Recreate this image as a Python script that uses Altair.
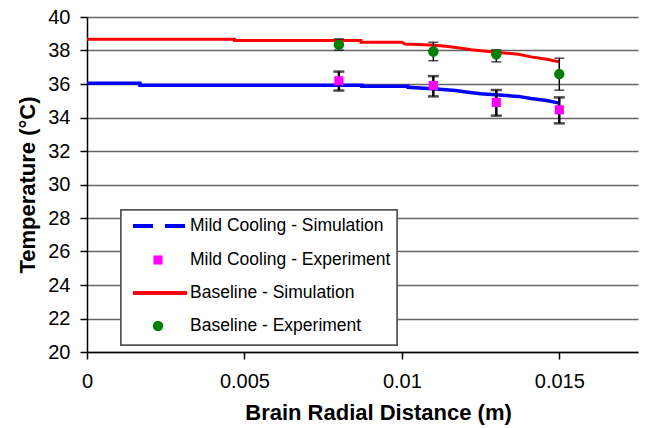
import altair as alt
import pandas as pd

# ---- data ----
red_x = [0, 0.00468, 0.00468, 0.0087, 0.0087, 0.0100, 0.0101, 0.0109, 0.0114, 0.0119, 0.0122, 0.0130, 0.0137, 0.0141, 0.0146, 0.0150]
red_y = [38.67, 38.67, 38.59, 38.59, 38.49, 38.49, 38.39, 38.33, 38.26, 38.14, 38.04, 37.90, 37.78, 37.62, 37.48, 37.32]

blue_x = [0, 0.00168, 0.00168, 0.00873, 0.00873, 0.0102, 0.0102, 0.0111, 0.0117, 0.0121, 0.0125, 0.0131, 0.0137, 0.0141, 0.0146, 0.0150]
blue_y = [36.05, 36.05, 35.93, 35.93, 35.87, 35.87, 35.80, 35.70, 35.61, 35.51, 35.42, 35.34, 35.26, 35.14, 35.02, 34.86]

exp_x = [0.008, 0.011, 0.013, 0.015]
mild_y = [36.19, 35.91, 34.90, 34.46]
mild_hi = [36.74, 36.47, 35.64, 35.20]
mild_lo = [35.61, 35.26, 34.11, 33.65]
base_y = [38.35, 37.94, 37.78, 36.59]
base_hi = [38.69, 38.49, 38.04, 37.54]
base_lo = [38.02, 37.39, 37.32, 35.63]

x_ticks = [0, 0.005, 0.01, 0.015]
y_ticks = [20, 22, 24, 26, 28, 30, 32, 34, 36, 38, 40]

legend_labels = ["Mild Cooling - Simulation", "Mild Cooling - Experiment",
                 "Baseline - Simulation", "Baseline - Experiment"]

FONT = "Liberation Sans"
W, H = 551, 335

red_df = pd.DataFrame({"x": red_x, "y": red_y, "i": range(len(red_x))})
blue_df = pd.DataFrame({"x": blue_x, "y": blue_y, "i": range(len(blue_x))})
mild_df = pd.DataFrame({"x": exp_x, "y": mild_y, "hi": mild_hi, "lo": mild_lo})
base_df = pd.DataFrame({"x": exp_x, "y": base_y, "hi": base_hi, "lo": base_lo})

xscale = alt.Scale(domain=[0, 0.0175], nice=False, zero=False)
yscale = alt.Scale(domain=[20, 40], nice=False, zero=False)

xax = alt.Axis(values=x_ticks, format=".3~f", grid=False,
               labelFlush=False, labelOverlap=False,
               title="Brain Radial Distance (m)", titleX=291, titleY=60,
               titleAlign="center", titleBaseline="middle")
yax = alt.Axis(values=y_ticks, tickCount=11, grid=True,
               labelFlush=False, labelOverlap=False,
               title="Temperature (°C)", titleX=-60, titleY=H / 2,
               titleAngle=270, titleAlign="center", titleBaseline="middle")


def X(f):
    return alt.X(f, scale=xscale, axis=xax)


def Y(f):
    return alt.Y(f, scale=yscale, axis=yax)


blue_line = alt.Chart(blue_df).mark_line(color="#0000FF", strokeWidth=3.5).encode(
    x=X("x:Q"), y=Y("y:Q"), order="i:Q")
red_line = alt.Chart(red_df).mark_line(color="#FF0000", strokeWidth=3).encode(
    x=X("x:Q"), y=Y("y:Q"), order="i:Q")


def errbars(df, width, cap):
    base = alt.Chart(df)
    rule = base.mark_rule(color="black", strokeWidth=width).encode(
        x=X("x:Q"), y=Y("lo:Q"), y2="hi:Q")
    caps = base.transform_fold(["lo", "hi"], as_=["k", "v"]).mark_tick(
        color="black", orient="horizontal", size=cap, thickness=width).encode(
        x=X("x:Q"), y=Y("v:Q"))
    return rule + caps


mild_err = errbars(mild_df, 2.5, 11)
base_err = errbars(base_df, 1.5, 10)

mild_pts = alt.Chart(mild_df).mark_point(shape="square", filled=True, size=85,
                                         color="#FF00FF", opacity=1).encode(x=X("x:Q"), y=Y("y:Q"))
base_pts = alt.Chart(base_df).mark_point(shape="circle", filled=True, size=110,
                                         color="#008000", opacity=1).encode(x=X("x:Q"), y=Y("y:Q"))

# ---- legend (manual, drawn in pixel space of the plot area) ----
leg_df = pd.DataFrame({"label": legend_labels})
row_y = [209, 243, 276, 309]

leg_box = alt.Chart(leg_df).mark_rect(fill="white", stroke="#555555", strokeWidth=1.5).encode(
    x=alt.value(34), x2=alt.value(310), y=alt.value(193), y2=alt.value(328))
leg_blue = alt.Chart(leg_df).mark_rule(color="#0000FF", strokeWidth=3.5, strokeDash=[20, 12]).encode(
    x=alt.value(46), x2=alt.value(98), y=alt.value(row_y[0]))
leg_red = alt.Chart(leg_df).mark_rule(color="#FF0000", strokeWidth=3).encode(
    x=alt.value(46), x2=alt.value(100), y=alt.value(row_y[2]))
leg_sq = alt.Chart(leg_df).mark_point(shape="square", filled=True, size=70, color="#FF00FF", opacity=1).encode(
    x=alt.value(71), y=alt.value(row_y[1]))
leg_ci = alt.Chart(leg_df).mark_point(shape="circle", filled=True, size=95, color="#008000", opacity=1).encode(
    x=alt.value(71), y=alt.value(row_y[3]))
leg_txt = []
for lab, yy in zip(legend_labels, row_y):
    leg_txt.append(
        alt.Chart(pd.DataFrame({"t": [lab]})).mark_text(
            align="left", baseline="middle", font=FONT, fontSize=17.5, color="black").encode(
            x=alt.value(103), y=alt.value(yy), text="t:N"))

chart = alt.layer(
    blue_line, red_line, mild_err, base_err, mild_pts, base_pts,
    leg_box, leg_blue, leg_red, leg_sq, leg_ci, *leg_txt
).properties(
    width=W, height=H,
    autosize=alt.AutoSizeParams(type="none"),
    padding={"left": 87, "top": 17, "right": 651 - 87 - W, "bottom": 428 - 17 - H},
    background="white",
).configure_view(stroke=None).configure_axis(
    labelFont=FONT, titleFont=FONT, labelFontSize=20, titleFontSize=22,
    titleFontWeight="bold", labelColor="black", titleColor="black",
    domainColor="black", domainWidth=1.5, tickColor="black", tickSize=7, tickWidth=1.5,
    gridColor="#666666", gridWidth=1.3, labelOverlap=False,
).configure_axisY(labelPadding=10).configure_axisX(labelPadding=12)

chart.save("out.html", embed_options={"renderer": "svg", "actions": False})
